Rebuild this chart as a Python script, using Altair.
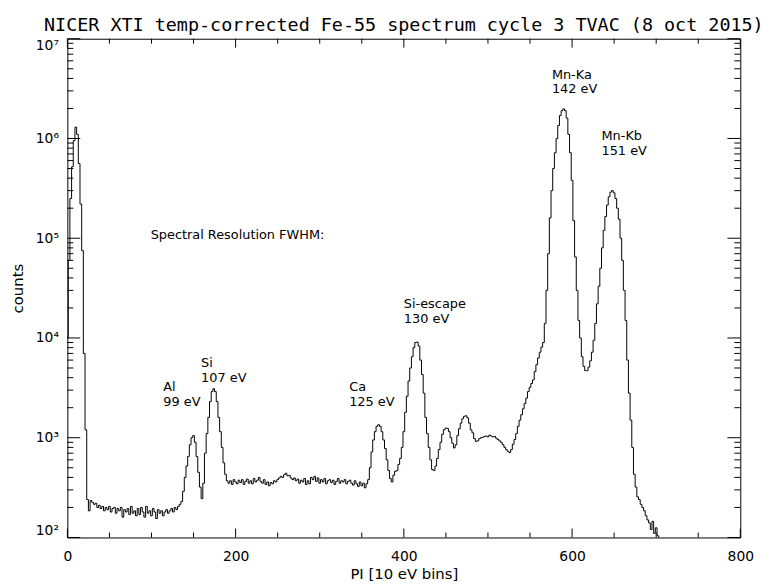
import altair as alt
import pandas as pd

# ---------------- data ----------------
pi_start = 0
pi_step = 2   # PI bin spacing of the listed counts
counts = [
    10000, 60000, 250000, 520000, 950000, 1300000, 1100000, 560000, 220000, 75000,
    7000, 1200, 240, 185, 235, 225, 215, 220, 200, 210,
    195, 205, 185, 200, 190, 205, 180, 195, 200, 175,
    195, 185, 200, 160, 190, 180, 195, 170, 205, 175,
    185, 165, 195, 170, 200, 180, 160, 205, 175, 185,
    165, 195, 180, 155, 190, 175, 185, 165, 180, 190,
    175, 185, 195, 180, 200, 190, 205, 215, 230, 290,
    400, 520, 650, 850, 1000, 1050, 900, 650, 450, 320,
    245, 350, 700, 1100, 1600, 2300, 2900, 3100, 2900, 2300,
    1600, 1150, 800, 560, 430, 370, 350, 370, 340, 380,
    360, 345, 375, 355, 380, 340, 365, 385, 350, 370,
    345, 390, 360, 375, 400, 365, 350, 380, 340, 360,
    330, 355, 345, 370, 360, 380, 395, 410, 400, 425,
    440, 415, 420, 395, 380, 395, 370, 385, 350, 375,
    360, 390, 340, 370, 345, 400, 380, 410, 365, 395,
    350, 380, 360, 390, 345, 370, 380, 355, 375, 340,
    365, 390, 350, 370, 360, 380, 345, 365, 375, 350,
    335, 370, 345, 325, 360, 330, 350, 315, 345, 380,
    500, 720, 950, 1150, 1300, 1350, 1300, 1150, 950, 780,
    600, 470, 390, 360, 420, 460, 470, 540, 620, 800,
    1150, 1800, 2600, 3700, 5000, 6500, 8000, 9000, 9100, 8300,
    6000, 4300, 2800, 1600, 1100, 800, 600, 480, 470, 520,
    620, 760, 900, 1080, 1200, 1250, 1240, 1150, 1000, 880,
    790, 850, 1050, 1230, 1400, 1550, 1640, 1660, 1580, 1400,
    1200, 1120, 980, 920, 930, 980, 1000, 1010, 1030, 1040,
    1020, 1060, 1040, 1020, 1030, 990, 960, 930, 900, 850,
    800, 760, 730, 710, 760, 860, 960, 1100, 1300, 1500,
    1700, 1950, 2200, 2500, 2900, 3200, 3500, 3800, 4600, 5400,
    6300, 7200, 8100, 9000, 14000, 30000, 70000, 160000, 300000, 500000,
    720000, 1000000, 1350000, 1700000, 1900000, 1980000, 1900000, 1600000, 1100000, 720000,
    380000, 150000, 65000, 30000, 15000, 10000, 6500, 5200, 4700, 4700,
    5100, 5900, 7200, 9500, 14000, 22000, 33000, 50000, 80000, 120000,
    165000, 215000, 260000, 290000, 300000, 285000, 250000, 200000, 155000, 100000,
    60000, 30000, 15000, 6000, 2800, 1500, 800, 430, 320, 255,
    240, 215, 200, 185, 165, 150, 140, 120, 145, 110,
    125, 104, 100,
]
pi = [pi_start + pi_step * i for i in range(len(counts))]

x_major = [0, 200, 400, 600, 800]
x_minor = [50, 100, 150, 250, 300, 350, 450, 500, 550, 650, 700, 750]
y_major = [1e2, 1e3, 1e4, 1e5, 1e6, 1e7]
y_minor = [200, 300, 400, 500, 600, 700, 800, 900,
           2000, 3000, 4000, 5000, 6000, 7000, 8000, 9000,
           20000, 30000, 40000, 50000, 60000, 70000, 80000, 90000,
           200000, 300000, 400000, 500000, 600000, 700000, 800000, 900000,
           2000000, 3000000, 4000000, 5000000, 6000000, 7000000, 8000000, 9000000]

ann_text = ["Mn-Ka\n142 eV", "Mn-Kb\n151 eV", "Spectral Resolution FWHM:",
            "Si-escape\n130 eV", "Ca\n125 eV", "Al\n99 eV", "Si\n107 eV"]
ann_x = [576, 635, 99, 400, 335, 114, 159]
ann_y = [5.0e6, 1.22e6, 1.245e5, 25100, 3715, 3715, 6400]

title_text = "NICER XTI temp-corrected Fe-55 spectrum cycle 3 TVAC (8 oct 2015)"

# ---------------- chart ----------------
W, H = 680, 504
FONT = "DejaVu Sans"

xs = alt.Scale(domain=[0, 800], nice=False, zero=False)
ys = alt.Scale(type="log", domain=[100, 1e7], nice=False)

x_axis = alt.Axis(
    values=x_major, ticks=False, domain=False, grid=False,
    labelFont=FONT, labelFontSize=14, labelColor="black", labelPadding=12,
    labelFlush=False, title="PI [10 eV bins]", titleFont=FONT,
    titleFontSize=15, titleFontWeight="normal", titleColor="black",
    titleX=W / 2, titleY=36, titleAlign="center", titleBaseline="middle")
y_axis = alt.Axis(
    values=y_major, ticks=False, domain=False, grid=False,
    labelExpr="'10' + ['⁰','¹','²','³','⁴','⁵','⁶','⁷'][round(log(datum.value)/LN10)]",
    labelFont=FONT, labelFontSize=14, labelColor="black", labelPadding=9,
    labelFlush=True, title="counts", titleFont=FONT, titleFontSize=15,
    titleFontWeight="normal", titleColor="black",
    titleX=-50, titleY=H / 2, titleAngle=270, titleAlign="center",
    titleBaseline="middle")

spec = pd.DataFrame({"pi": pi, "counts": counts})

line = alt.Chart(spec).mark_line(
    interpolate="step", color="black", strokeWidth=1, clip=True
).encode(
    x=alt.X("pi:Q", scale=xs, axis=x_axis),
    y=alt.Y("counts:Q", scale=ys, axis=y_axis),
)


def xticks(vals, y0, y1):
    return alt.Chart(pd.DataFrame({"v": vals})).mark_rule(
        color="black", strokeWidth=1).encode(
        x=alt.X("v:Q", scale=xs, axis=x_axis), y=alt.value(y0), y2=alt.value(y1))


def yticks(vals, x0, x1):
    return alt.Chart(pd.DataFrame({"v": vals})).mark_rule(
        color="black", strokeWidth=1).encode(
        y=alt.Y("v:Q", scale=ys, axis=y_axis), x=alt.value(x0), x2=alt.value(x1))


ticks = [
    xticks(x_major, H, H - 9), xticks(x_minor, H, H - 5),
    xticks(x_major, 0, 9), xticks(x_minor, 0, 5),
    yticks(y_major, 0, 13), yticks(y_minor, 0, 6),
    yticks(y_major, W, W - 13), yticks(y_minor, W, W - 6),
]

ann = alt.Chart(pd.DataFrame({"t": ann_text, "x": ann_x, "y": ann_y})).mark_text(
    align="left", baseline="top", font=FONT, fontSize=13, lineHeight=15,
    lineBreak="\n", color="black"
).encode(
    x=alt.X("x:Q", scale=xs, axis=x_axis),
    y=alt.Y("y:Q", scale=ys, axis=y_axis),
    text="t:N",
)

chart = alt.layer(line, *ticks, ann).properties(
    width=W, height=H,
    autosize="none",
    padding={"left": 60, "top": 28, "right": 28, "bottom": 47},
    title=alt.TitleParams(title_text, font="DejaVu Sans Mono", fontSize=18.6,
                          fontWeight="normal", color="black", anchor="middle",
                          frame="group", baseline="alphabetic", offset=9, dy=20),
    background="white",
).configure_view(stroke="black", strokeWidth=1)

chart.save("out.html", embed_options={"renderer": "svg", "actions": False})
